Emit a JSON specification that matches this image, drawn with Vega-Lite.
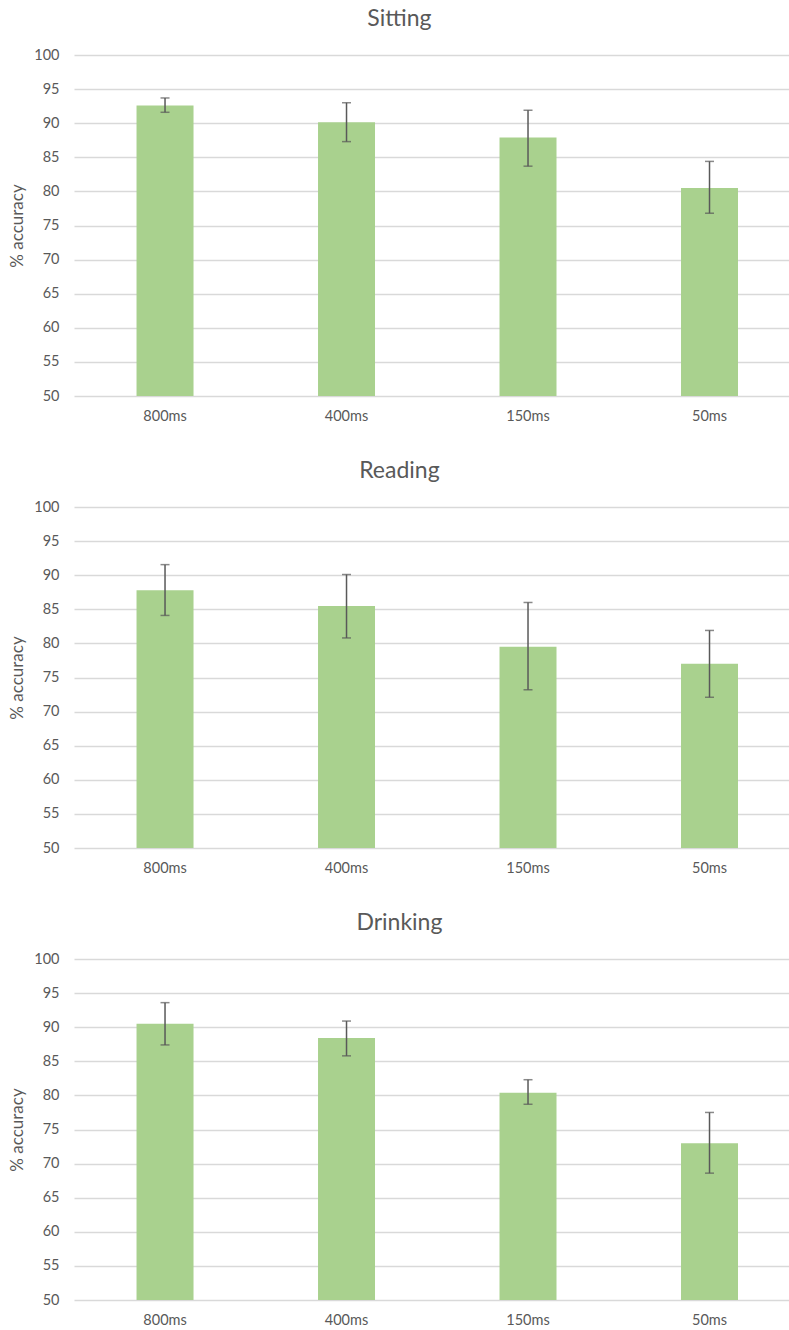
{
  "$schema": "https://vega.github.io/schema/vega-lite/v6.json",
  "padding": {"left": 8, "top": 8, "right": 0, "bottom": 0},
  "background": "white",
  "config": {
    "view": {"stroke": null},
    "font": "Lato",
    "title": {"font": "Lato", "fontSize": 23, "fontWeight": "normal", "color": "#595959", "anchor": "middle", "frame": "bounds", "offset": 16},
    "axis": {"labelFont": "Lato", "titleFont": "Lato", "labelColor": "#595959", "titleColor": "#595959"},
    "axisY": {"values": [50,55,60,65,70,75,80,85,90,95,100], "labelFontSize": 14.5, "labelPadding": 15, "ticks": false, "domain": false, "gridColor": "#d9d9d9", "gridWidth": 1.5, "labelOverlap": false, "titleFontSize": 17, "titleFontWeight": "normal", "titlePadding": 7},
    "axisX": {"title": null, "labelAngle": 0, "labelFontSize": 14.5, "labelPadding": 13, "ticks": false, "domain": false}
  },
  "data": {"values": [
    {"panel": "Sitting", "duration": "800ms", "accuracy": 92.6, "lo": 91.6, "hi": 93.7},
    {"panel": "Sitting", "duration": "400ms", "accuracy": 90.15, "lo": 87.3, "hi": 93.0},
    {"panel": "Sitting", "duration": "150ms", "accuracy": 87.9, "lo": 83.7, "hi": 91.9},
    {"panel": "Sitting", "duration": "50ms", "accuracy": 80.5, "lo": 76.8, "hi": 84.4},
    {"panel": "Reading", "duration": "800ms", "accuracy": 87.8, "lo": 84.1, "hi": 91.55},
    {"panel": "Reading", "duration": "400ms", "accuracy": 85.5, "lo": 80.8, "hi": 90.1},
    {"panel": "Reading", "duration": "150ms", "accuracy": 79.5, "lo": 73.2, "hi": 86.0},
    {"panel": "Reading", "duration": "50ms", "accuracy": 77.0, "lo": 72.1, "hi": 81.9},
    {"panel": "Drinking", "duration": "800ms", "accuracy": 90.5, "lo": 87.4, "hi": 93.6},
    {"panel": "Drinking", "duration": "400ms", "accuracy": 88.4, "lo": 85.8, "hi": 90.9},
    {"panel": "Drinking", "duration": "150ms", "accuracy": 80.4, "lo": 78.7, "hi": 82.3},
    {"panel": "Drinking", "duration": "50ms", "accuracy": 73.0, "lo": 68.6, "hi": 77.5}
  ]},
  "spacing": 37,
  "vconcat": [
    {
      "title": "Sitting",
      "width": 716, "height": 341,
      "transform": [{"filter": "datum.panel === 'Sitting'"}],
      "encoding": {
        "x": {"field": "duration", "type": "nominal", "sort": ["800ms", "400ms", "150ms", "50ms"],
              "scale": {"paddingInner": 0.686, "paddingOuter": 0.3155, "align": 0.546}}
      },
      "layer": [
        {"mark": {"type": "bar", "color": "#a9d18e"},
         "encoding": {"y": {"field": "accuracy", "type": "quantitative", "scale": {"domain": [50, 100], "clamp": true}, "axis": {"title": "% accuracy", "titleFontSize": 17}},
            "y2": {"datum": 50}}},
        {"mark": {"type": "rule", "color": "#595959", "strokeWidth": 1.5},
         "encoding": {"y": {"field": "lo", "type": "quantitative", "axis": {"title": "% accuracy", "titleFontSize": 17}}, "y2": {"field": "hi"}}},
        {"mark": {"type": "tick", "color": "#595959", "thickness": 1.5, "size": 9},
         "encoding": {"y": {"field": "lo", "type": "quantitative", "axis": {"title": "% accuracy", "titleFontSize": 17}}}},
        {"mark": {"type": "tick", "color": "#595959", "thickness": 1.5, "size": 9},
         "encoding": {"y": {"field": "hi", "type": "quantitative", "axis": {"title": "% accuracy", "titleFontSize": 17}}}}
      ]
    },
    {
      "title": "Reading",
      "width": 716, "height": 341,
      "transform": [{"filter": "datum.panel === 'Reading'"}],
      "encoding": {
        "x": {"field": "duration", "type": "nominal", "sort": ["800ms", "400ms", "150ms", "50ms"],
              "scale": {"paddingInner": 0.686, "paddingOuter": 0.3155, "align": 0.546}}
      },
      "layer": [
        {"mark": {"type": "bar", "color": "#a9d18e"},
         "encoding": {"y": {"field": "accuracy", "type": "quantitative", "scale": {"domain": [50, 100], "clamp": true}, "axis": {"title": "% accuracy", "titleFontSize": 17}},
            "y2": {"datum": 50}}},
        {"mark": {"type": "rule", "color": "#595959", "strokeWidth": 1.5},
         "encoding": {"y": {"field": "lo", "type": "quantitative", "axis": {"title": "% accuracy", "titleFontSize": 17}}, "y2": {"field": "hi"}}},
        {"mark": {"type": "tick", "color": "#595959", "thickness": 1.5, "size": 9},
         "encoding": {"y": {"field": "lo", "type": "quantitative", "axis": {"title": "% accuracy", "titleFontSize": 17}}}},
        {"mark": {"type": "tick", "color": "#595959", "thickness": 1.5, "size": 9},
         "encoding": {"y": {"field": "hi", "type": "quantitative", "axis": {"title": "% accuracy", "titleFontSize": 17}}}}
      ]
    },
    {
      "title": "Drinking",
      "width": 716, "height": 341,
      "transform": [{"filter": "datum.panel === 'Drinking'"}],
      "encoding": {
        "x": {"field": "duration", "type": "nominal", "sort": ["800ms", "400ms", "150ms", "50ms"],
              "scale": {"paddingInner": 0.686, "paddingOuter": 0.3155, "align": 0.546}}
      },
      "layer": [
        {"mark": {"type": "bar", "color": "#a9d18e"},
         "encoding": {"y": {"field": "accuracy", "type": "quantitative", "scale": {"domain": [50, 100], "clamp": true}, "axis": {"title": "% accuracy", "titleFontSize": 17}},
            "y2": {"datum": 50}}},
        {"mark": {"type": "rule", "color": "#595959", "strokeWidth": 1.5},
         "encoding": {"y": {"field": "lo", "type": "quantitative", "axis": {"title": "% accuracy", "titleFontSize": 17}}, "y2": {"field": "hi"}}},
        {"mark": {"type": "tick", "color": "#595959", "thickness": 1.5, "size": 9},
         "encoding": {"y": {"field": "lo", "type": "quantitative", "axis": {"title": "% accuracy", "titleFontSize": 17}}}},
        {"mark": {"type": "tick", "color": "#595959", "thickness": 1.5, "size": 9},
         "encoding": {"y": {"field": "hi", "type": "quantitative", "axis": {"title": "% accuracy", "titleFontSize": 17}}}}
      ]
    }
  ]
}
